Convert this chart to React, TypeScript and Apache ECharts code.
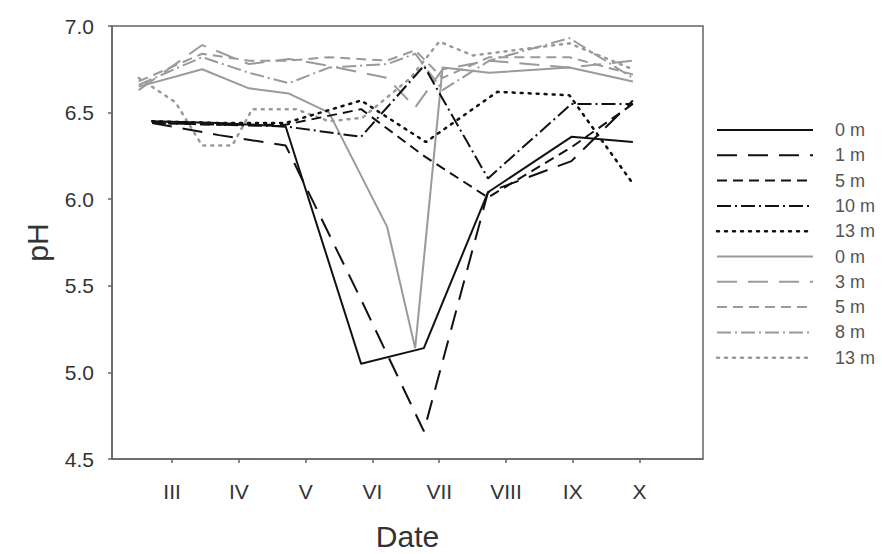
import React, { useEffect, useRef } from "react";
import * as echarts from "echarts";

// Months (value axis, III..X)
const monthTicks = [3, 4, 5, 6, 7, 8, 9, 10];
const monthLabels = ["III", "IV", "V", "VI", "VII", "VIII", "IX", "X"];

// Lake A sampling dates (black lines)
const datesA = [2.7, 3.7, 4.7, 5.83, 6.77, 7.73, 8.98, 9.9];
const a0 = [6.45, 6.44, 6.42, 5.05, 5.14, 6.04, 6.36, 6.33];
const a1 = [6.44, 6.37, 6.31, 5.42, 4.66, 6.04, 6.22, 6.57];
const a5 = [6.44, 6.43, 6.43, 6.52, 6.25, 6.01, 6.30, 6.55];
const a10 = [6.44, 6.43, 6.42, 6.36, 6.77, 6.12, 6.55, 6.55];
const datesA13 = [2.7, 3.7, 4.7, 5.83, 6.8, 7.87, 8.95, 9.9];
const a13 = [6.45, 6.44, 6.44, 6.57, 6.33, 6.62, 6.60, 6.09];

// Lake B sampling dates (grey lines)
const datesB = [2.5, 3.45, 4.15, 4.75, 5.35, 6.22, 6.64, 7.05, 7.75, 8.95, 9.9];
const b0 = [6.65, 6.75, 6.64, 6.61, 6.50, 5.84, 5.14, 6.76, 6.73, 6.76, 6.68];
const b3 = [6.63, 6.89, 6.78, 6.81, 6.77, 6.70, 6.53, 6.75, 6.80, 6.76, 6.80];
const b5 = [6.68, 6.84, 6.80, 6.80, 6.82, 6.80, 6.86, 6.70, 6.82, 6.82, 6.72];
const b8 = [6.66, 6.82, 6.73, 6.67, 6.76, 6.78, 6.84, 6.63, 6.80, 6.93, 6.70];
const datesB13 = [2.5, 3.05, 3.45, 3.9, 4.2, 4.85, 5.35, 5.85, 6.57, 7.0, 7.5, 8.95, 9.9];
const b13 = [6.70, 6.56, 6.31, 6.31, 6.52, 6.52, 6.45, 6.47, 6.70, 6.91, 6.83, 6.90, 6.75];

const legendLabels = ["0 m", "1 m", "5 m", "10 m", "13 m", "0 m", "3 m", "5 m", "8 m", "13 m"];

const BLACK = "#111111";
const GREY = "#9a9a9a";
const LONG = [20, 11];
const MED = [10, 6];
const DASHDOT = [14, 4, 2, 4];
const DOT = [2, 6];

const seriesDefs = [
  { dates: datesA, vals: a0, color: BLACK, dash: "solid" as any },
  { dates: datesA, vals: a1, color: BLACK, dash: LONG },
  { dates: datesA, vals: a5, color: BLACK, dash: MED },
  { dates: datesA, vals: a10, color: BLACK, dash: DASHDOT },
  { dates: datesA13, vals: a13, color: BLACK, dash: DOT },
  { dates: datesB, vals: b0, color: GREY, dash: "solid" as any },
  { dates: datesB, vals: b3, color: GREY, dash: LONG },
  { dates: datesB, vals: b5, color: GREY, dash: MED },
  { dates: datesB, vals: b8, color: GREY, dash: DASHDOT },
  { dates: datesB13, vals: b13, color: GREY, dash: DOT },
];

const FONT = "Liberation Sans, Arial, sans-serif";

export default function App() {
  const ref = useRef<HTMLDivElement>(null);
  useEffect(() => {
    if (!ref.current) return;
    const chart = echarts.init(ref.current, undefined, { renderer: "svg" });

    const series = seriesDefs.map((s, i) => ({
      type: "line",
      name: legendLabels[i] + "#" + i,
      data: s.dates.map((d, j) => [d, s.vals[j]]),
      showSymbol: false,
      symbol: "none",
      z: s.color === GREY ? 2 : 3,
      lineStyle: {
        color: s.color,
        width: s.dash === DOT ? 2.5 : 2,
        type: s.dash,
        cap: s.dash === DOT ? "round" : "butt",
      },
      silent: true,
    }));

    const legendGraphics: any[] = [];
    seriesDefs.forEach((s, i) => {
      const y = 130 + i * 25.3;
      legendGraphics.push({
        type: "line",
        shape: { x1: 717, y1: y, x2: 813, y2: y },
        style: {
          stroke: s.color,
          lineWidth: s.dash === DOT ? 2.5 : 2,
          lineDash: s.dash === "solid" ? null : s.dash,
          lineCap: s.dash === DOT ? "round" : "butt",
        },
      });
      legendGraphics.push({
        type: "text",
        x: 835,
        y: y,
        style: {
          text: legendLabels[i],
          fill: "#555",
          font: `18px ${FONT}`,
          verticalAlign: "middle",
          align: "left",
        },
      });
    });

    chart.setOption({
      animation: false,
      backgroundColor: "#ffffff",
      textStyle: { fontFamily: FONT },
      grid: {
        left: 112,
        right: 179,
        top: 26,
        bottom: 95,
        show: true,
        borderColor: "#666",
        borderWidth: 1.5,
        containLabel: false,
        outerBoundsMode: "none",
      },
      xAxis: {
        type: "value",
        min: 2.1,
        max: 10.95,
        name: "Date",
        nameLocation: "middle",
        nameGap: 62,
        nameTextStyle: { fontSize: 30, color: "#333", fontFamily: FONT },
        axisLine: { show: true, lineStyle: { color: "#666", width: 1.5 } },
        axisTick: {
          show: true,
          length: 4,
          customValues: monthTicks,
          lineStyle: { color: "#666", width: 1.5 },
        },
        axisLabel: {
          customValues: monthTicks,
          margin: 22,
          fontSize: 21,
          color: "#333",
          fontFamily: FONT,
          formatter: (v: number) => monthLabels[monthTicks.indexOf(Math.round(v))] ?? "",
        },
        splitLine: { show: false },
      },
      yAxis: {
        type: "value",
        min: 4.5,
        max: 7.0,
        interval: 0.5,
        name: "pH",
        nameLocation: "middle",
        nameGap: 60,
        nameTextStyle: { fontSize: 30, color: "#333", fontFamily: FONT },
        axisLine: { show: true, lineStyle: { color: "#666", width: 1.5 } },
        axisTick: { show: true, length: 4, lineStyle: { color: "#666", width: 1.5 } },
        axisLabel: {
          margin: 18,
          fontSize: 21,
          color: "#333",
          fontFamily: FONT,
          formatter: (v: number) => v.toFixed(1),
        },
        splitLine: { show: false },
      },
      series,
      graphic: legendGraphics,
    });

    return () => chart.dispose();
  }, []);

  return <div ref={ref} style={{ width: 882, height: 554, position: "absolute", left: 0, top: 0 }} />;
}
